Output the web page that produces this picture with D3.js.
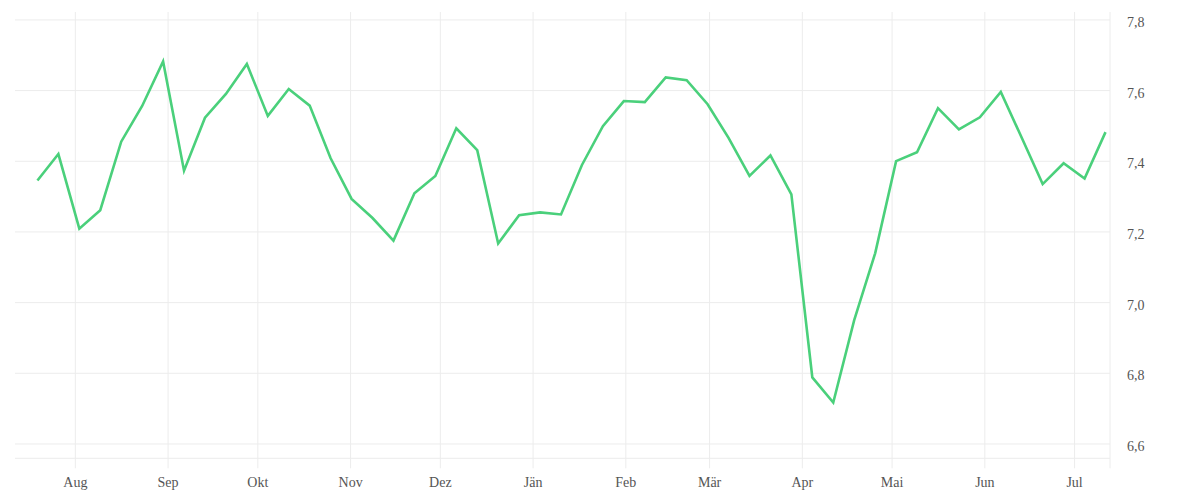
<!DOCTYPE html>
<html lang="de">
<head>
    <meta charset="UTF-8">
    <title>Wochenverlauf</title>
    <script src="https://d3js.org/d3.v7.min.js"></script>
    <style>
        /* Basic page styling */
        html, body { margin: 0; padding: 0; background: #fff; }
        svg { display: block; }
        .grid line { stroke: #ececec; stroke-width: 1; }
        .tick text { fill: #555; font-size: 14px; font-family: "Liberation Serif", "DejaVu Serif", serif; }
    </style>
</head>
<body>
    <div id="chart"></div>

    <script>
        // weekly observations, first one on 19 Jul 2022 (midday)
        var startDate = '2022-07-19 12:00';
        var values = [
            7.344, 7.419, 7.208, 7.260, 7.454, 7.555, 7.681, 7.372, 7.522, 7.589,
            7.674, 7.527, 7.603, 7.556, 7.407, 7.292, 7.238, 7.174, 7.308, 7.357,
            7.492, 7.430, 7.166, 7.246, 7.254, 7.248, 7.388, 7.498, 7.569, 7.566,
            7.636, 7.628, 7.560, 7.465, 7.357, 7.415, 7.305, 6.787, 6.716, 6.949,
            7.138, 7.399, 7.424, 7.549, 7.489, 7.523, 7.595, 7.465, 7.334, 7.393,
            7.350, 7.481
        ];
        var monthLabels = ['Aug', 'Sep', 'Okt', 'Nov', 'Dez', 'Jän', 'Feb', 'Mär', 'Apr', 'Mai', 'Jun', 'Jul'];
        var yTicks = [6.6, 6.8, 7.0, 7.2, 7.4, 7.6, 7.8];

        var svgWidth = 1200, svgHeight = 500;
        var plotLeft = 15, plotRight = 1110, plotTop = 12, plotBottom = 458.3, tickBottom = 468.3;

        var parse = d3.timeParse('%Y-%m-%d');
        var parseTime = d3.timeParse('%Y-%m-%d %H:%M');
        var data = values.map(function(v, i) {
            return {date: d3.timeDay.offset(parseTime(startDate), i * 7), value: v};
        });

        var svg = d3.select('#chart')
                    .append('svg')
                    .attr('width', svgWidth)
                    .attr('height', svgHeight);

        var x = d3.scaleTime()
                  .domain([parse('2022-07-12'), parse('2023-07-13')])
                  .range([plotLeft, plotRight]);
        var y = d3.scaleLinear().domain([6.558, 7.821]).range([plotBottom, plotTop]);

        var monthTicks = d3.timeMonth.range(parse('2022-08-01'), parse('2023-07-02'));

        // y axis on the right, ticks stretched left as grid lines
        var yAxis = svg.append('g')
           .attr('class', 'grid')
           .attr('transform', 'translate(' + plotRight + ',0)')
           .call(d3.axisRight(y)
                   .tickValues(yTicks)
                   .tickSize(-(plotRight - plotLeft))
                   .tickPadding(17)
                   .tickFormat(function(d) { return d3.format('.1f')(d).replace('.', ','); }));
        yAxis.select('.domain').remove();
        yAxis.selectAll('.tick text').attr('dy', '0.5em');

        // x axis, ticks stretched up as grid lines
        var xAxis = svg.append('g')
           .attr('class', 'grid')
           .attr('transform', 'translate(0,' + tickBottom + ')')
           .call(d3.axisBottom(x)
                   .tickValues(monthTicks)
                   .tickSize(-(tickBottom - plotTop))
                   .tickPadding(9)
                   .tickFormat(function(d, i) { return monthLabels[i]; }));
        xAxis.select('.domain').remove();

        // plot frame: bottom and right edge
        svg.append('line')
           .attr('x1', plotLeft).attr('x2', plotRight)
           .attr('y1', plotBottom).attr('y2', plotBottom)
           .attr('stroke', '#ececec');
        svg.append('line')
           .attr('x1', plotRight).attr('x2', plotRight)
           .attr('y1', plotTop).attr('y2', tickBottom)
           .attr('stroke', '#ececec');

        var line = d3.line()
                     .x(function(d) { return x(d.date); })
                     .y(function(d) { return y(d.value); });

        svg.append('path')
           .datum(data)
           .attr('fill', 'none')
           .attr('stroke', '#4ad07b')
           .attr('stroke-width', 2.6)
           .attr('stroke-linejoin', 'miter')
           .attr('d', line);
    </script>
</body>
</html>
